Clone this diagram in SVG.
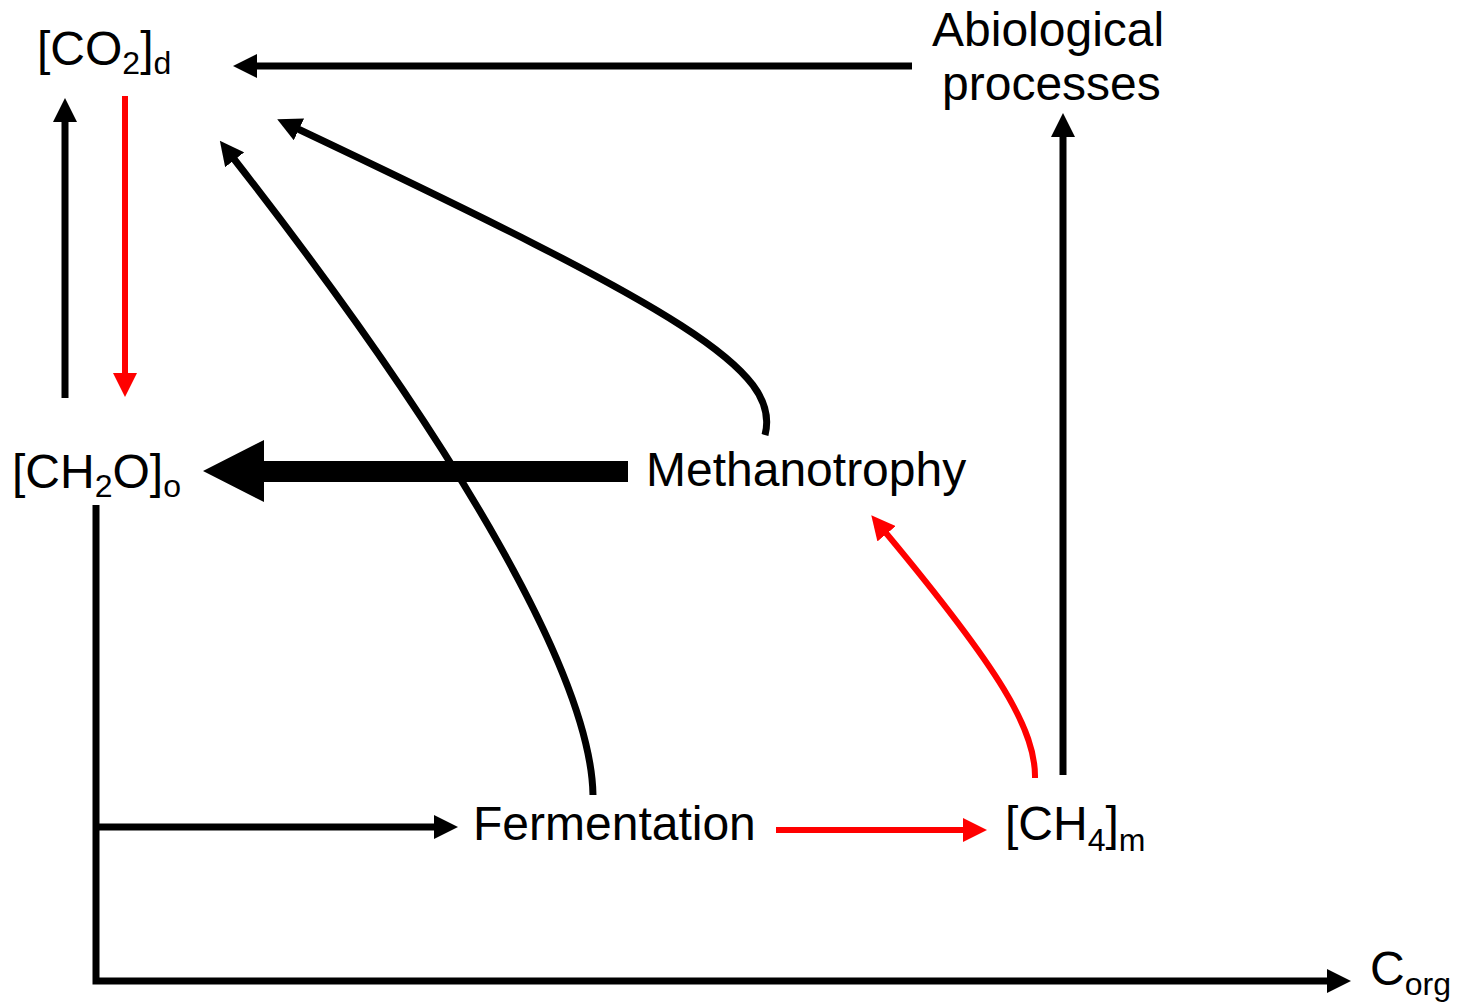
<svg xmlns="http://www.w3.org/2000/svg" width="1460" height="1003" viewBox="0 0 1460 1003">
<style>
text{font-family:"Liberation Sans",Arial,sans-serif;font-size:48px;fill:#000}
.sub{font-size:32px}
.k{fill:none;stroke:#000;stroke-width:7}
.r{fill:none;stroke:#f00;stroke-width:6}
</style>
<defs>
<marker id="ak" markerUnits="userSpaceOnUse" markerWidth="24" markerHeight="24" refX="1" refY="12" orient="auto" viewBox="0 0 24 24">
<path d="M0,0 L24,12 L0,24 z" fill="#000"/>
</marker>
<marker id="ar" markerUnits="userSpaceOnUse" markerWidth="24" markerHeight="24" refX="1" refY="12" orient="auto" viewBox="0 0 24 24">
<path d="M0,0 L24,12 L0,24 z" fill="#f00"/>
</marker>
</defs>
<g id="connectors">
<path class="k" d="M912,66 H256" marker-end="url(#ak)"/>
<path class="k" d="M65,398 V121" marker-end="url(#ak)"/>
<path class="r" d="M125,96 V374" marker-end="url(#ar)"/>
<polygon points="628,461 264,461 264,440 203,471 264,502 264,482 628,482" fill="#000"/>
<path class="k" d="M765,435 C782,370 680,310 298,129" marker-end="url(#ak)"/>
<path class="k" d="M593,795 C591,680 465,455 234,159" marker-end="url(#ak)"/>
<path class="r" d="M1035,778 C1036,730 1000,670 886,533" marker-end="url(#ar)"/>
<path class="k" d="M1063,775 V136" marker-end="url(#ak)"/>
<path class="r" d="M776,830 H964" marker-end="url(#ar)"/>
<path class="k" d="M96,505 V981 H1328" stroke-linejoin="miter" marker-end="url(#ak)"/>
<path class="k" d="M96,827 H435" marker-end="url(#ak)"/>
</g>
<g id="co2"><text x="37" y="65">[CO<tspan class="sub" dy="9">2</tspan><tspan dy="-9">]</tspan><tspan class="sub" dy="9">d</tspan></text></g>
<g id="abio"><text x="932" y="46">Abiological</text><text x="942" y="100">processes</text></g>
<g id="ch2o"><text x="12" y="488">[CH<tspan class="sub" dy="9">2</tspan><tspan dy="-9">O]</tspan><tspan class="sub" dy="9">o</tspan></text></g>
<g id="methanotrophy"><text x="646" y="486">Methanotrophy</text></g>
<g id="fermentation"><text x="473" y="840">Fermentation</text></g>
<g id="ch4"><text x="1005" y="840">[CH<tspan class="sub" dy="11">4</tspan><tspan dy="-11">]</tspan><tspan class="sub" dy="11">m</tspan></text></g>
<g id="corg"><text x="1370" y="985">C<tspan class="sub" dy="10">org</tspan></text></g>
</svg>
